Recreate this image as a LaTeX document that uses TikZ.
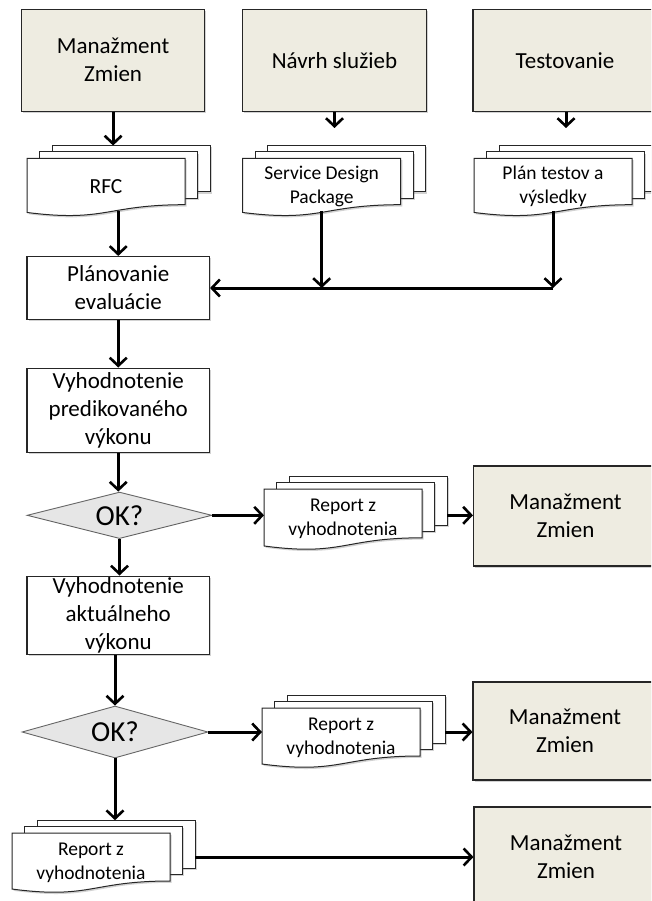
\documentclass[tikz,border=0pt]{standalone}
\usepackage{fontspec}
\setmainfont{Carlito}
\usetikzlibrary{arrows.meta,shapes.geometric,shadows}

\definecolor{srcfill}{HTML}{EEECE1}
\definecolor{okfill}{HTML}{E6E6E6}

\tikzset{
  soft/.style={drop shadow={shadow xshift=1.6pt,shadow yshift=-1.8pt,opacity=0.25,fill=black!70}},
  bigtext/.style={font=\fontsize{23}{28}\selectfont},
  source/.style={rectangle,draw=black!85,line width=1.1pt,fill=srcfill,soft,align=center,inner sep=0pt,bigtext},
  stepbox/.style={rectangle,draw=black!85,line width=1.1pt,fill=white,soft,align=center,inner sep=0pt,bigtext},
  decision/.style={diamond,draw=black!60,line width=0.9pt,fill=okfill,inner sep=0pt,aspect=4,
    font=\fontsize{29}{34}\selectfont},
  page/.style={draw=black!85,line width=1pt,fill=white,soft},
  doctext/.style={align=center,inner sep=0pt,font=\fontsize{19.5}{24}\selectfont},
  area/.style={rectangle,inner sep=0pt,outer sep=0pt,anchor=north west},
  arr/.style={line width=3pt,-{Straight Barb[length=8pt,width=17pt,line width=2.6pt]}},
}

% stack of three pages: #1 name, #2 left of front page, #3 top of front page,
% #4 page height, #5 text
\newcommand\docstack[5]{%
  \draw[page] ({#2+25},{#3-12.8}) rectangle ({#2+183},{#3-12.8+0.8*#4});
  \draw[page] ({#2+12.5},{#3-6.4}) rectangle ({#2+170.5},{#3-6.4+0.8*#4});
  \draw[page] (#2,#3) -- ({#2+158},#3) -- ({#2+158},{#3+0.8*#4})
    .. controls ({#2+79},{#3+0.8*#4}) and ({#2+79},{#3+1.107*#4}) .. (#2,{#3+0.934*#4}) -- cycle;
  \node[area,minimum width=158pt,minimum height={0.91*#4}] (#1) at (#2,#3) {};
  \node[area,minimum width=158pt,minimum height={0.8*#4}] (#1-b) at ({#2+25},{#3-12.8}) {};
  \node[doctext] (#1-t) at ({#2+79},{#3+0.49*#4}) {#5};
}

\begin{document}
\begin{tikzpicture}[x=1pt,y=-1pt]
  \useasboundingbox (0,0) rectangle (651,901);
  \clip (0,0) rectangle (651,901);

  % sources on top
  \node[source,minimum width=183pt,minimum height=102pt] (mz1) at (113.1,60.3) {Manažment\\Zmien};
  \node[source,minimum width=184.3pt,minimum height=102pt] (nav) at (334.5,60.3) {Návrh služieb};
  \node[source,minimum width=184pt,minimum height=102pt] (test) at (565,60.3) {Testovanie};

  % input documents
  \docstack{rfc}{27}{158.3}{58}{\fontsize{21.5}{26}\selectfont RFC}
  \docstack{sdp}{242.7}{158.3}{58}{Service Design\\Package}
  \docstack{plt}{474}{158.3}{58}{Plán testov a\\výsledky}

  % main flow
  \node[stepbox,minimum width=182.5pt,minimum height=63pt] (plan) at (118.25,288) {Plánovanie\\evaluácie};
  \node[stepbox,minimum width=182.5pt,minimum height=84.5pt] (pred) at (118.25,410.3) {Vyhodnotenie\\predikovaného\\výkonu};
  \node[decision,minimum width=185pt,minimum height=46.5pt] (ok1) at (119.5,515.3) {OK?};
  \node[stepbox,minimum width=182.5pt,minimum height=78.5pt] (akt) at (118.25,615.3) {Vyhodnotenie\\aktuálneho\\výkonu};
  \node[decision,minimum width=186pt,minimum height=52pt] (ok2) at (115,732) {OK?};

  % reports
  \docstack{rep1}{264}{489}{61}{Report z\\vyhodnotenia}
  \docstack{rep2}{262}{708}{60}{Report z\\vyhodnotenia}
  \docstack{rep3}{12}{833}{60}{Report z\\vyhodnotenia}

  % change management on the right
  \node[source,minimum width=184pt,minimum height=100pt] (mz2) at (565.5,516) {Manažment\\Zmien};
  \node[source,minimum width=184pt,minimum height=98pt] (mz3) at (565,731) {Manažment\\Zmien};
  \node[source,minimum width=184pt,minimum height=100pt] (mz4) at (566,857) {Manažment\\Zmien};

  % free ends of the short arrows
  \coordinate (navend) at (334.5,128);
  \coordinate (testend) at (566,128);

  % connectors
  \draw[arr] (mz1.south) -- (mz1.south |- rfc-b.north);
  \draw[arr] (nav.south) -- (navend);
  \draw[arr] (test.south -| testend) -- (testend);
  \draw[arr] (plan.north |- rfc.south) -- (plan.north);
  \draw[arr] (sdp.south) -- (sdp.south |- plan.east);
  \draw[arr] (plt.south) -- (plt.south |- plan.east);
  \draw[arr] (plt.south |- plan.east) -- (plan.east);
  \draw[arr] (plan.south) -- (pred.north);
  \draw[arr] (pred.south) -- (pred.south |- ok1.north);
  \draw[arr] (ok1.east) -- (ok1.east -| rep1.west);
  \draw[arr] (ok1.east -| rep1-b.east) -- (ok1.east -| mz2.west);
  \draw[arr] (ok1.south) -- (ok1.south |- akt.north);
  \draw[arr] (ok2.north |- akt.south) -- (ok2.north);
  \draw[arr] (ok2.east) -- (ok2.east -| rep2.west);
  \draw[arr] (ok2.east -| rep2-b.east) -- (ok2.east -| mz3.west);
  \draw[arr] (ok2.south) -- (ok2.south |- rep3-b.north);
  \draw[arr] (mz4.west -| rep3-b.east) -- (mz4.west);
\end{tikzpicture}
\end{document}
